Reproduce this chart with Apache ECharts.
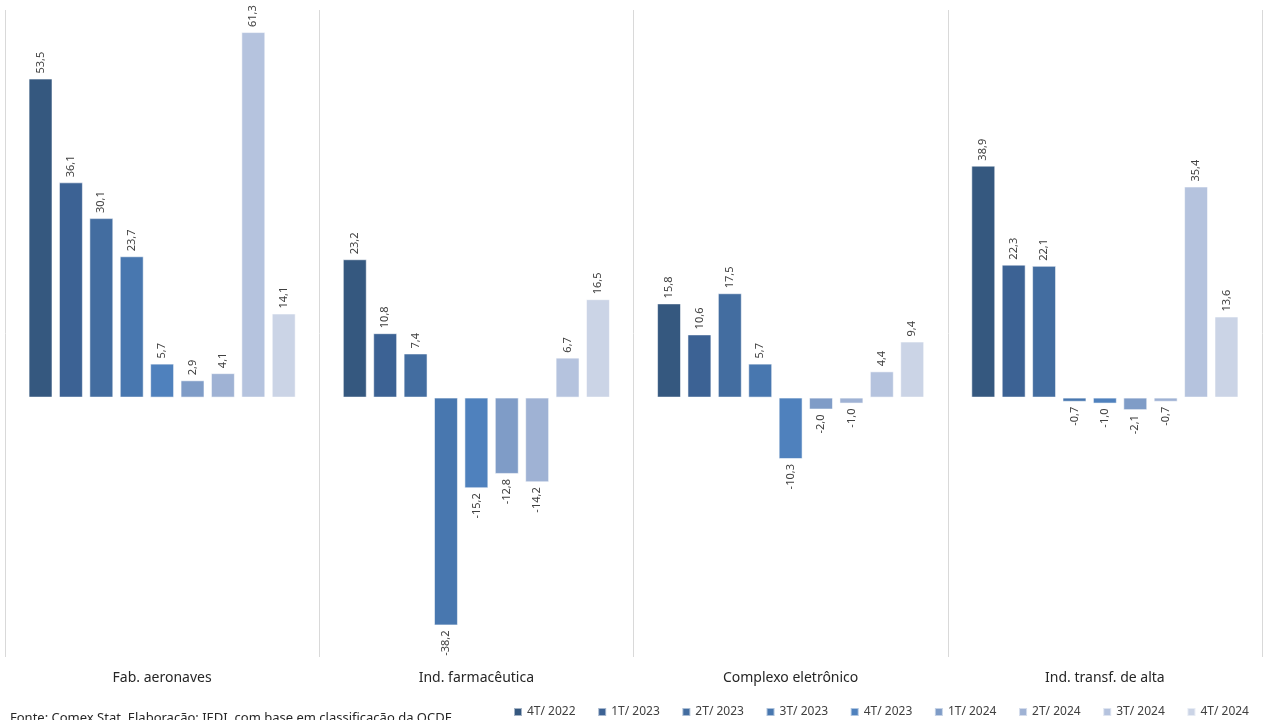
<!DOCTYPE html>
<html>
<head>
<meta charset="utf-8">
<script src="https://cdn.jsdelivr.net/npm/echarts@6/dist/echarts.min.js"></script>
<style>
html,body{margin:0;padding:0;background:#fff;}
#chart{width:1263px;height:720px;}
</style>
</head>
<body>
<div id="chart"></div>
<script>
const categories = ['Fab. aeronaves', 'Ind. farmacêutica', 'Complexo eletrônico', 'Ind. transf. de alta'];
const quarters = ['4T/ 2022', '1T/ 2023', '2T/ 2023', '3T/ 2023', '4T/ 2023', '1T/ 2024', '2T/ 2024', '3T/ 2024', '4T/ 2024'];
const q4_2022 = [53.5, 23.2, 15.8, 38.9];
const q1_2023 = [36.1, 10.8, 10.6, 22.3];
const q2_2023 = [30.1, 7.4, 17.5, 22.1];
const q3_2023 = [23.7, -38.2, 5.7, -0.7];
const q4_2023 = [5.7, -15.2, -10.3, -1.0];
const q1_2024 = [2.9, -12.8, -2.0, -2.1];
const q2_2024 = [4.1, -14.2, -1.0, -0.7];
const q3_2024 = [61.3, 6.7, 4.4, 35.4];
const q4_2024 = [14.1, 16.5, 9.4, 13.6];
const seriesValues = [q4_2022, q1_2023, q2_2023, q3_2023, q4_2023, q1_2024, q2_2024, q3_2024, q4_2024];
const colors = ['#35587f', '#3c6294', '#436da0', '#4877af', '#4f81bd', '#7f9cc7', '#9fb2d4', '#b5c3de', '#cbd4e6'];
const sourceText = 'Fonte: Comex Stat. Elaboração: IEDI, com base em classificação da OCDE';

const FONT = 'Noto Sans';
const fmt = v => v.toFixed(1).replace('.', ',');

const chart = echarts.init(document.getElementById('chart'), null, {renderer: 'canvas'});
const series = quarters.map((name, i) => ({
  name: name,
  type: 'bar',
  barCategoryGap: '15%',
  barGap: '27%',
  itemStyle: {color: colors[i], borderColor: 'rgba(255,255,255,0.55)', borderWidth: 1},
  data: seriesValues[i].map(v => ({
    value: v,
    label: v >= 0
      ? {show: true, position: 'top', rotate: 90, align: 'left', verticalAlign: 'middle', distance: 5}
      : {show: true, position: 'bottom', rotate: 90, align: 'right', verticalAlign: 'middle', distance: 5}
  })),
  label: {
    show: true,
    fontFamily: FONT,
    fontSize: 11,
    color: '#404040',
    formatter: p => fmt(p.value)
  }
}));

chart.setOption({
  animation: false,
  color: colors,
  textStyle: {fontFamily: FONT},
  grid: {left: 5, right: 1, top: 10, bottom: 63, containLabel: false},
  legend: {
    data: quarters,
    left: 508,
    top: 701,
    itemWidth: 8,
    itemHeight: 8,
    itemGap: 21.6,
    icon: 'rect',
    textStyle: {fontFamily: FONT, fontSize: 12, color: '#404040'}
  },
  xAxis: {
    type: 'category',
    data: categories,
    position: 'bottom',
    axisLine: {show: false, onZero: false},
    axisTick: {show: false},
    axisLabel: {fontFamily: FONT, fontSize: 14, color: '#262626', margin: 14},
    splitLine: {show: true, lineStyle: {color: '#d9d9d9', width: 1}}
  },
  yAxis: {
    type: 'value',
    min: -43.5,
    max: 65,
    show: false,
    splitLine: {show: false}
  },
  graphic: [{
    type: 'text',
    left: 10,
    top: 712,
    style: {text: sourceText, fontFamily: FONT, fontSize: 13, fill: '#262626'}
  }],
  series: series
});
</script>
</body>
</html>
